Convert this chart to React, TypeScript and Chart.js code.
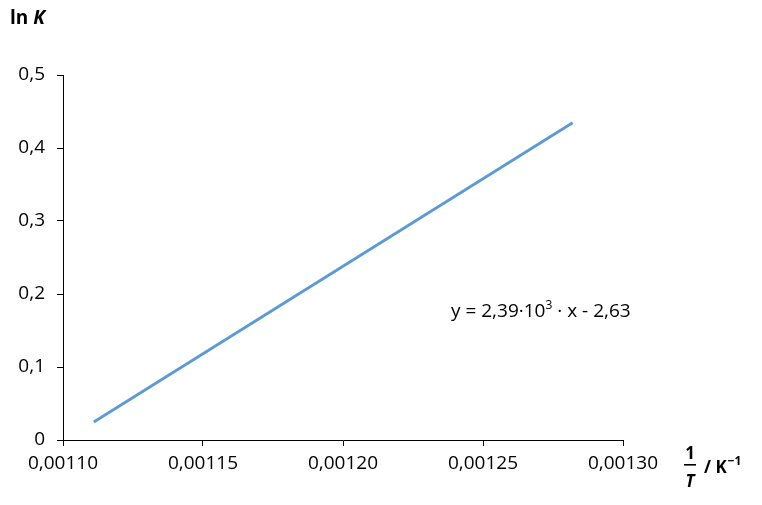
import React, { useEffect, useRef } from "react";
import { Chart, registerables } from "chart.js";

Chart.register(...registerables);

const xValues = [0.001111, 0.001282];
const yValues = [0.0247, 0.4346];
const xMin = 0.0011;
const xMax = 0.0013;
const xStep = 0.00005;
const yMin = 0;
const yMax = 0.5;
const yStep = 0.1;
const equationParts = ["y = 2,39·10", "3", " · x - 2,63"];
const yTitle = ["ln ", "K"];
const xTitle = ["1", "T", "/ K", "−1"];

const FONT = "'Open Sans', sans-serif";
const LINE_COLOR = "#5B9BD5";

const textPlugin = {
  id: "texts",
  afterDraw(chart: any) {
    const ctx = chart.ctx;
    ctx.save();
    ctx.fillStyle = "#000";
    ctx.textBaseline = "alphabetic";
    ctx.textAlign = "left";
    // y title
    ctx.font = `bold 19px ${FONT}`;
    let x = 10;
    ctx.fillText(yTitle[0], x, 24);
    x += ctx.measureText(yTitle[0]).width;
    ctx.font = `italic bold 19px ${FONT}`;
    ctx.fillText(yTitle[1], x, 24);

    // x title fraction
    ctx.textAlign = "center";
    ctx.font = `bold 17px ${FONT}`;
    ctx.fillText(xTitle[0], 690, 459);
    ctx.fillRect(684, 464, 12, 1.6);
    ctx.font = `italic bold 17px ${FONT}`;
    ctx.fillText(xTitle[1], 690, 487);
    ctx.textAlign = "left";
    ctx.font = `bold 17px ${FONT}`;
    ctx.fillText(xTitle[2], 704, 473);
    const w = ctx.measureText(xTitle[2]).width;
    ctx.font = `bold 12px ${FONT}`;
    ctx.fillText(xTitle[3], 704 + w + 1, 465);

    // equation
    ctx.font = `19px ${FONT}`;
    let ex = 451;
    const ey = 317;
    ctx.fillText(equationParts[0], ex, ey);
    ex += ctx.measureText(equationParts[0]).width;
    ctx.font = `12px ${FONT}`;
    ctx.fillText(equationParts[1], ex, ey - 8);
    ex += ctx.measureText(equationParts[1]).width;
    ctx.font = `19px ${FONT}`;
    ctx.fillText(equationParts[2], ex, ey);
    ctx.restore();
  },
};

export default function App() {
  const ref = useRef<HTMLCanvasElement>(null);
  useEffect(() => {
    document.body.style.margin = "0";
    const chart = new Chart(ref.current!, {
      type: "scatter",
      data: {
        datasets: [
          {
            data: xValues.map((v, i) => ({ x: v, y: yValues[i] })),
            showLine: true,
            borderColor: LINE_COLOR,
            borderWidth: 2.75,
            pointRadius: 0,
            fill: false,
          },
        ],
      },
      options: {
        animation: false,
        responsive: false,
        layout: { padding: { top: 75, right: 139, left: 0, bottom: 0 } },
        plugins: { legend: { display: false }, tooltip: { enabled: false } },
        scales: {
          x: {
            type: "linear",
            min: xMin,
            max: xMax,
            afterBuildTicks: (scale: any) => {
              const t = [];
              for (let i = 0; i <= Math.round((xMax - xMin) / xStep); i++) t.push({ value: xMin + i * xStep });
              scale.ticks = t;
            },
            afterFit: (scale: any) => {
              scale.height = 65;
            },
            border: { display: true, color: "#000", width: 1 },
            grid: { drawOnChartArea: false, drawTicks: true, tickLength: 6, color: "#000" },
            ticks: {
              font: { family: "'Open Sans', sans-serif", size: 19 },
              color: "#000",
              padding: 6,
              maxRotation: 0,
              callback: (v: any) => Number(v).toFixed(5).replace(".", ","),
            },
          },
          y: {
            type: "linear",
            min: yMin,
            max: yMax,
            afterBuildTicks: (scale: any) => {
              const t = [];
              for (let i = 0; i <= Math.round((yMax - yMin) / yStep); i++) t.push({ value: yMin + i * yStep });
              scale.ticks = t;
            },
            afterFit: (scale: any) => {
              scale.width = 63;
            },
            border: { display: true, color: "#000", width: 1 },
            grid: { drawOnChartArea: false, drawTicks: true, tickLength: 6, color: "#000" },
            ticks: {
              font: { family: "'Open Sans', sans-serif", size: 19 },
              color: "#000",
              padding: 12,
              callback: (v: any) => {
                const n = Number(v);
                return n === 0 ? "0" : n.toFixed(1).replace(".", ",");
              },
            },
          },
        },
      },
      plugins: [textPlugin],
    });
    return () => chart.destroy();
  }, []);
  return <canvas ref={ref} width={762} height={505} style={{ display: "block" }} />;
}
